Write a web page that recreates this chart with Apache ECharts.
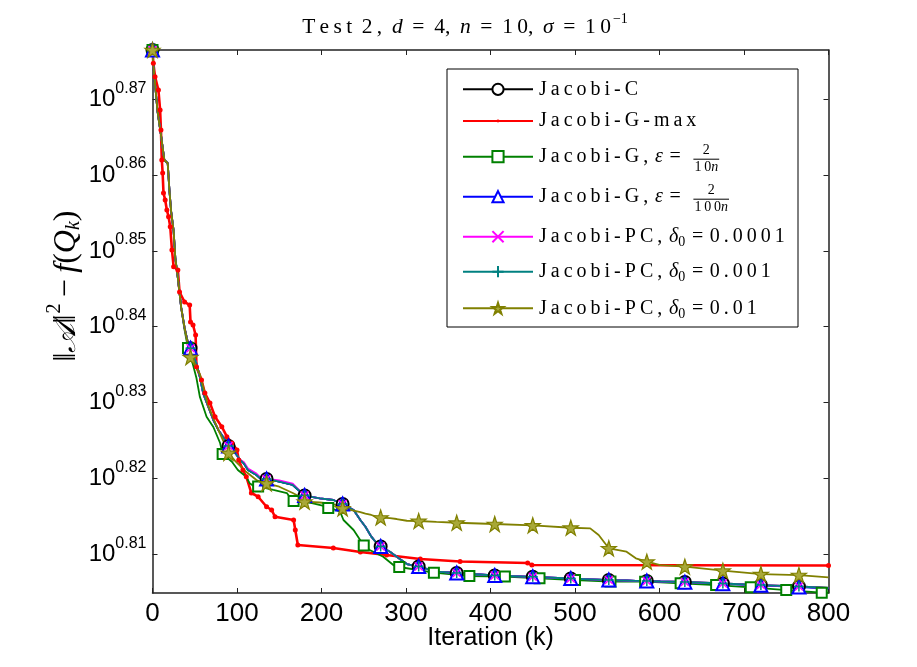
<!DOCTYPE html>
<html>
<head>
<meta charset="utf-8">
<title>Test 2</title>
<script src="https://cdn.jsdelivr.net/npm/echarts@6/dist/echarts.min.js"></script>
<style>
  html, body { margin: 0; padding: 0; background: #fff; }
  #chart { width: 917px; height: 667px; }
</style>
</head>
<body>
<div id="chart"></div>
<script>
// iterations shared by Jacobi-C, Jacobi-G (100n) and the three Jacobi-PC runs
const iterMain = [0, 1, 6, 10, 14, 18, 20, 22, 25, 27, 30, 34, 38, 42, 45, 52, 56, 60, 66, 72,
  78, 86, 90, 98, 104, 108, 113, 123, 127, 135, 150, 166, 175, 180, 198, 214, 225, 238, 246, 252,
  259, 267, 270, 281, 289, 301, 315, 336, 360, 405, 450, 495, 518, 528, 540, 561, 572, 585, 601, 630,
  675, 720, 765, 800];

// values are the exponents e of 10^e
const valC = [0.87650, 0.87453, 0.86836, 0.86529, 0.86199, 0.86156, 0.85803, 0.85526, 0.85263, 0.84906,
  0.84643, 0.84247, 0.83983, 0.83785, 0.83715, 0.83517, 0.83340, 0.83121, 0.82945, 0.82769,
  0.82637, 0.82505, 0.82426, 0.82330, 0.82241, 0.82198, 0.82110, 0.82044, 0.82004, 0.81991,
  0.81955, 0.81912, 0.81823, 0.81773, 0.81736, 0.81714, 0.81661, 0.81582, 0.81450, 0.81362,
  0.81230, 0.81120, 0.81100, 0.81032, 0.80966, 0.80869, 0.80836, 0.80768, 0.80751, 0.80718,
  0.80701, 0.80678, 0.80668, 0.80664, 0.80658, 0.80652, 0.80648, 0.80645, 0.80639, 0.80632,
  0.80612, 0.80592, 0.80573, 0.80553];

const valG100 = [0.87650, 0.87453, 0.86836, 0.86529, 0.86199, 0.86156, 0.85803, 0.85526, 0.85263, 0.84906,
  0.84643, 0.84247, 0.83983, 0.83785, 0.83715, 0.83517, 0.83340, 0.83121, 0.82945, 0.82769,
  0.82637, 0.82505, 0.82426, 0.82330, 0.82241, 0.82198, 0.82110, 0.82044, 0.82004, 0.81991,
  0.81955, 0.81912, 0.81823, 0.81773, 0.81736, 0.81714, 0.81661, 0.81582, 0.81450, 0.81362,
  0.81230, 0.81120, 0.81100, 0.81032, 0.80966, 0.80869, 0.80836, 0.80768, 0.80751, 0.80718,
  0.80701, 0.80678, 0.80668, 0.80664, 0.80658, 0.80652, 0.80648, 0.80645, 0.80639, 0.80630,
  0.80608, 0.80588, 0.80566, 0.80545];

const valPC4 = [0.87650, 0.87453, 0.86836, 0.86529, 0.86199, 0.86156, 0.85803, 0.85526, 0.85263, 0.84906,
  0.84643, 0.84247, 0.83983, 0.83785, 0.83715, 0.83517, 0.83340, 0.83121, 0.82945, 0.82769,
  0.82637, 0.82505, 0.82426, 0.82330, 0.82241, 0.82215, 0.82128, 0.82062, 0.82020, 0.81991,
  0.81972, 0.81930, 0.81823, 0.81773, 0.81736, 0.81714, 0.81661, 0.81582, 0.81450, 0.81362,
  0.81230, 0.81120, 0.81100, 0.81032, 0.80966, 0.80869, 0.80836, 0.80768, 0.80751, 0.80718,
  0.80701, 0.80678, 0.80668, 0.80664, 0.80658, 0.80652, 0.80648, 0.80645, 0.80639, 0.80632,
  0.80612, 0.80592, 0.80573, 0.80553];

const valPC3 = [0.87650, 0.87453, 0.86836, 0.86529, 0.86199, 0.86156, 0.85803, 0.85526, 0.85263, 0.84906,
  0.84643, 0.84247, 0.83983, 0.83785, 0.83715, 0.83517, 0.83340, 0.83121, 0.82945, 0.82769,
  0.82637, 0.82505, 0.82426, 0.82330, 0.82241, 0.82198, 0.82110, 0.82044, 0.82004, 0.81991,
  0.81955, 0.81912, 0.81823, 0.81773, 0.81736, 0.81714, 0.81661, 0.81582, 0.81450, 0.81362,
  0.81230, 0.81120, 0.81100, 0.81032, 0.80966, 0.80869, 0.80836, 0.80768, 0.80751, 0.80718,
  0.80701, 0.80678, 0.80668, 0.80664, 0.80658, 0.80652, 0.80648, 0.80645, 0.80639, 0.80632,
  0.80612, 0.80592, 0.80573, 0.80553];

const valPC2 = [0.87650, 0.87453, 0.86836, 0.86529, 0.86199, 0.86156, 0.85803, 0.85526, 0.85263, 0.84906,
  0.84643, 0.84247, 0.83983, 0.83759, 0.83600, 0.83455, 0.83376, 0.83208, 0.82954, 0.82792,
  0.82637, 0.82439, 0.82334, 0.82228, 0.82162, 0.82110, 0.82066, 0.81978, 0.81958, 0.81934,
  0.81889, 0.81806, 0.81753, 0.81691, 0.81681, 0.81661, 0.81604, 0.81575, 0.81555, 0.81535,
  0.81516, 0.81489, 0.81483, 0.81476, 0.81463, 0.81440, 0.81437, 0.81424, 0.81414, 0.81397,
  0.81380, 0.81348, 0.81340, 0.81252, 0.81077, 0.81032, 0.80945, 0.80900, 0.80856, 0.80834,
  0.80781, 0.80737, 0.80724, 0.80694];

// Jacobi-G-max
const iterGmax = [0, 1, 3, 7, 9, 10, 11, 12, 13, 15, 17, 19, 21, 23, 25, 30, 32, 38, 44, 45,
  48, 51, 52, 58, 62, 68, 74, 82, 88, 94, 100, 102, 107, 111, 117, 125, 135, 141, 145, 167,
  169, 172, 214, 246, 277, 317, 364, 444, 449, 800];
const valGmax = [0.87650, 0.87475, 0.87298, 0.87123, 0.86859, 0.86595, 0.86199, 0.86028, 0.85764, 0.85672,
  0.85540, 0.85451, 0.85319, 0.85012, 0.84792, 0.84748, 0.84458, 0.84326, 0.84286, 0.84062,
  0.84022, 0.83890, 0.83472, 0.83297, 0.83125, 0.82993, 0.82813, 0.82681, 0.82549, 0.82466,
  0.82374, 0.82242, 0.82110, 0.82021, 0.81806, 0.81757, 0.81625, 0.81582, 0.81493, 0.81450,
  0.81318, 0.81120, 0.81081, 0.81028, 0.80988, 0.80935, 0.80902, 0.80883, 0.80856, 0.80850];

// Jacobi-G, eps = 2/(10n)
const iterG10 = [0, 1, 6, 10, 14, 18, 20, 22, 25, 27, 30, 34, 38, 42, 48, 52, 56, 64, 72, 80,
  83, 94, 101, 111, 115, 121, 125, 143, 159, 165, 167, 190, 206, 208, 222, 226, 238, 250, 257, 273,
  285, 292, 333, 375, 417, 458, 500, 542, 583, 625, 667, 708, 750, 792, 800];
const valG10 = [0.87650, 0.87453, 0.86836, 0.86529, 0.86199, 0.86156, 0.85803, 0.85526, 0.85263, 0.84906,
  0.84643, 0.84247, 0.83956, 0.83719, 0.83495, 0.83323, 0.83077, 0.82813, 0.82677, 0.82466,
  0.82321, 0.82219, 0.82110, 0.82021, 0.81934, 0.81889, 0.81892, 0.81846, 0.81806, 0.81714,
  0.81701, 0.81670, 0.81625, 0.81608, 0.81560, 0.81450, 0.81318, 0.81114, 0.81054, 0.80966,
  0.80856, 0.80830, 0.80755, 0.80711, 0.80704, 0.80681, 0.80658, 0.80639, 0.80636, 0.80615,
  0.80592, 0.80562, 0.80526, 0.80491, 0.80491];

// iterations where markers are drawn
const markEvery45 = [0, 45, 90, 135, 180, 225, 270, 315, 360, 405, 450, 495, 540, 585, 630, 675, 720, 765];
const markG10 = [0, 42, 83, 125, 167, 208, 250, 292, 333, 375, 417, 458, 500, 542, 583, 625, 667, 708, 750, 792];

const yTickExps = [0.81, 0.82, 0.83, 0.84, 0.85, 0.86, 0.87];

const seriesNames = ['Jacobi-C', 'Jacobi-G-max', 'Jacobi-G, ε = 2/(10n)', 'Jacobi-G, ε = 2/(100n)',
  'Jacobi-PC, δ0 = 0.0001', 'Jacobi-PC, δ0 = 0.001', 'Jacobi-PC, δ0 = 0.01'];

const SERIF = '"Liberation Serif", "DejaVu Serif", serif';
const SANS = '"Liberation Sans", Arial, sans-serif';
const sp = s => [...s].join('\u2009'); // loose LaTeX-like letter spacing
const SPC = ' \u200A';                 // slightly wider word space
const TSPC = ' \u2009';                // word space in the title

const toData = (xs, ys, marks) => xs.map((k, i) =>
    (!marks || marks.includes(k)) ? [k, ys[i]] : { value: [k, ys[i]], symbol: 'none' });

const mkLine = (name, xs, ys, marks, color, symbol, size, extra) => Object.assign({
    name: name,
    type: 'line',
    data: toData(xs, ys, marks),
    symbol: symbol,
    symbolSize: size,
    showAllSymbol: true,
    color: color,
    lineStyle: { width: 1.8, color: color },
    itemStyle: { color: color, borderColor: color, borderWidth: 1.5 },
    emphasis: { disabled: true },
    animation: false
}, extra || {});

const dotPath = 'path://M0 0M20 20M7.5 10a2.5 2.5 0 1 0 5 0a2.5 2.5 0 1 0 -5 0z';
const crossPath = 'path://M0 0L10 10M10 0L0 10';
const plusPath = 'path://M5 0L5 10M0 5L10 5';
const starPath = 'path://M50 0L61.8 35.1L98.9 35.1L68.8 56.8L80.3 91.9L50 70.2L19.7 91.9L31.2 56.8L1.1 35.1L38.2 35.1Z';

// legend rows: icon centre y and the label (rich text)
const legendRowY = [89.3, 121, 156.7, 196.7, 236.7, 271.7, 308.3];
const legendText = [
    `{r|${sp('Jacobi-C')}}`,
    `{r|${sp('Jacobi-G-max')}}`,
    `{r|${sp('Jacobi-G,')}${SPC}}{i|ε}{r|${SPC}=${SPC}}`,
    `{r|${sp('Jacobi-G,')}${SPC}}{i|ε}{r|${SPC}=${SPC}}`,
    `{r|${sp('Jacobi-PC,')}${SPC}}{i|δ}{s|0}{r|${SPC}=${SPC}${sp('0.0001')}}`,
    `{r|${sp('Jacobi-PC,')}${SPC}}{i|δ}{s|0}{r|${SPC}=${SPC}${sp('0.001')}}`,
    `{r|${sp('Jacobi-PC,')}${SPC}}{i|δ}{s|0}{r|${SPC}=${SPC}${sp('0.01')}}`
];
const legendRich = {
    r: { fontFamily: SERIF, fontSize: 20, color: '#000' },
    i: { fontFamily: SERIF, fontSize: 20, fontStyle: 'italic', color: '#000' },
    s: { fontFamily: SERIF, fontSize: 14, color: '#000', padding: [12, 0, 0, 0] }
};
const legendTextX = 539;

// text measuring, to put the stacked fractions right after "ε ="
const ctx = document.createElement('canvas').getContext('2d');
const textW = (s, font) => { ctx.font = font; return ctx.measureText(s).width; };
const epsW = textW(sp('Jacobi-G,') + SPC, `20px ${SERIF}`) + textW('ε', `italic 20px ${SERIF}`) +
    textW(SPC + '=' + SPC, `20px ${SERIF}`);

const fraction = (cy, digits) => {
    const x0 = legendTextX + epsW + 6;
    const w = textW(sp(digits), `14px ${SERIF}`) + textW('n', `italic 14px ${SERIF}`) + 2;
    const cx = x0 + w / 2;
    return [
        { type: 'text', x: cx, y: cy - 6.5, z: 10,
          style: { text: '2', font: `14px ${SERIF}`, fill: '#000', align: 'center', verticalAlign: 'middle' } },
        { type: 'line', z: 10, shape: { x1: x0, y1: cy + 2.5, x2: x0 + w, y2: cy + 2.5 },
          style: { stroke: '#000', lineWidth: 1 } },
        { type: 'text', x: cx, y: cy + 11, z: 10,
          style: { text: `{r|${sp(digits)}}{i|n}`, align: 'center', verticalAlign: 'middle',
                   rich: { r: { fontFamily: SERIF, fontSize: 14, color: '#000' },
                           i: { fontFamily: SERIF, fontSize: 14, fontStyle: 'italic', color: '#000' } } } }
    ];
};

const chart = echarts.init(document.getElementById('chart'));

const axisLineStyle = { color: '#222', width: 1.5 };

const option = {
    backgroundColor: '#fff',
    animation: false,
    title: {
        text: `{r|${sp('Test')}${TSPC}${sp('2,')}${TSPC}}{i|d}{r|${TSPC}=${TSPC}4,${TSPC}}{i|n}` +
              `{r|${TSPC}=${TSPC}${sp('10')},${TSPC}}{i|σ}{r|${TSPC}=${TSPC}${sp('10')}}{p|−1}`,
        left: 460,
        top: 7,
        textAlign: 'center',
        textStyle: {
            fontWeight: 'normal',
            rich: {
                r: { fontFamily: SERIF, fontSize: 21.5, fontWeight: 'normal', color: '#000' },
                i: { fontFamily: SERIF, fontSize: 21.5, fontWeight: 'normal', fontStyle: 'italic', color: '#000' },
                p: { fontFamily: SERIF, fontSize: 14, fontWeight: 'normal', color: '#000', padding: [0, 0, 16, 2] }
            }
        }
    },
    grid: { left: 152.5, right: 88.5, top: 50, bottom: 74 },
    xAxis: [{
        type: 'value',
        position: 'bottom',
        min: 0,
        max: 800,
        interval: 100,
        name: 'Iteration (k)',
        nameLocation: 'middle',
        nameGap: 45,
        nameMoveOverlap: false,
        nameTextStyle: { fontFamily: SANS, fontSize: 25, color: '#000', verticalAlign: 'middle' },
        axisLine: { onZero: false, lineStyle: axisLineStyle },
        axisTick: { inside: true, length: 5, lineStyle: { color: '#222', width: 1 } },
        axisLabel: { fontFamily: SANS, fontSize: 26, color: '#000', margin: 8 },
        splitLine: { show: false }
    }, {
        type: 'value',
        position: 'top',
        min: 0,
        max: 800,
        interval: 100,
        axisLine: { onZero: false, lineStyle: axisLineStyle },
        axisTick: { inside: true, length: 5, lineStyle: { color: '#222', width: 1 } },
        axisLabel: { show: false },
        splitLine: { show: false }
    }],
    yAxis: [{
        type: 'value',
        position: 'left',
        min: 0.80487,
        max: 0.8765,
        axisLine: { onZero: false, lineStyle: axisLineStyle },
        axisTick: { inside: true, length: 5, customValues: yTickExps, lineStyle: { color: '#222', width: 1 } },
        axisLabel: {
            customValues: yTickExps,
            margin: 6,
            formatter: v => `{b|10}{s|${v.toFixed(2)}}`,
            rich: {
                b: { fontFamily: SANS, fontSize: 24, color: '#000' },
                s: { fontFamily: SANS, fontSize: 16, color: '#000', padding: [0, 0, 22, 0] }
            }
        },
        splitLine: { show: false }
    }, {
        type: 'value',
        position: 'right',
        min: 0.80487,
        max: 0.8765,
        axisLine: { onZero: false, lineStyle: axisLineStyle },
        axisTick: { inside: true, length: 5, customValues: yTickExps, lineStyle: { color: '#222', width: 1 } },
        axisLabel: { show: false },
        splitLine: { show: false }
    }],
    // one legend per row so each icon sits exactly on its row; labels are drawn below as rich text
    legend: seriesNames.map((name, i) => ({
        data: [name],
        left: 462,
        top: legendRowY[i] - 7,
        padding: 0,
        itemWidth: 70,
        itemHeight: 14,
        selectedMode: false,
        formatter: () => '',
        textStyle: { fontSize: 8 },
        z: 5
    })),
    graphic: [
        { type: 'rect', z: 3, shape: { x: 447, y: 69, width: 351, height: 258 },
          style: { fill: '#fff', stroke: '#000', lineWidth: 1 } },
        ...legendText.map((t, i) => ({
            type: 'text', x: legendTextX, y: legendRowY[i], z: 10,
            style: { text: t, align: 'left', verticalAlign: 'middle', rich: legendRich }
        })),
        ...fraction(legendRowY[2], '10'),
        ...fraction(legendRowY[3], '100'),
        { type: 'text', x: 67, y: 286, rotation: Math.PI / 2, z: 10,
          style: {
              text: '{r|‖}{m|𝒜}{r|‖}{p|2}{r|\u2009−\u2009}{i|f}{r|(}{i|Q}{q|k}{r|)}',
              align: 'center', verticalAlign: 'middle',
              rich: {
                  r: { fontFamily: SERIF, fontSize: 32, color: '#000' },
                  m: { fontFamily: '"DejaVu Serif", "DejaVu Sans", serif', fontSize: 31, fontStyle: 'italic', color: '#000' },
                  i: { fontFamily: SERIF, fontSize: 32, fontStyle: 'italic', color: '#000' },
                  p: { fontFamily: SERIF, fontSize: 20, color: '#000', padding: [0, 0, 24, 1] },
                  q: { fontFamily: SERIF, fontSize: 20, fontStyle: 'italic', color: '#000', padding: [14, 0, 0, 0] }
              }
          } }
    ],
    series: [
        mkLine(seriesNames[0], iterMain, valC, markEvery45, '#000000', 'emptyCircle', 12),
        mkLine(seriesNames[1], iterGmax, valGmax, null, '#ff0000', dotPath, 20,
            { lineStyle: { width: 2.6, color: '#ff0000' }, itemStyle: { color: '#ff0000', borderWidth: 0 } }),
        mkLine(seriesNames[2], iterG10, valG10, markG10, '#008000', 'emptyRect', 10),
        mkLine(seriesNames[3], iterMain, valG100, markEvery45, '#0000ff', 'emptyTriangle', 13),
        mkLine(seriesNames[4], iterMain, valPC4, markEvery45, '#ff00ff', crossPath, 8),
        mkLine(seriesNames[5], iterMain, valPC3, markEvery45, '#008080', plusPath, 10),
        mkLine(seriesNames[6], iterMain, valPC2, markEvery45, '#808000', starPath, 15,
            { itemStyle: { color: '#a8a838', borderColor: '#808000', borderWidth: 1.2 } })
    ]
};

chart.setOption(option);
</script>
</body>
</html>
